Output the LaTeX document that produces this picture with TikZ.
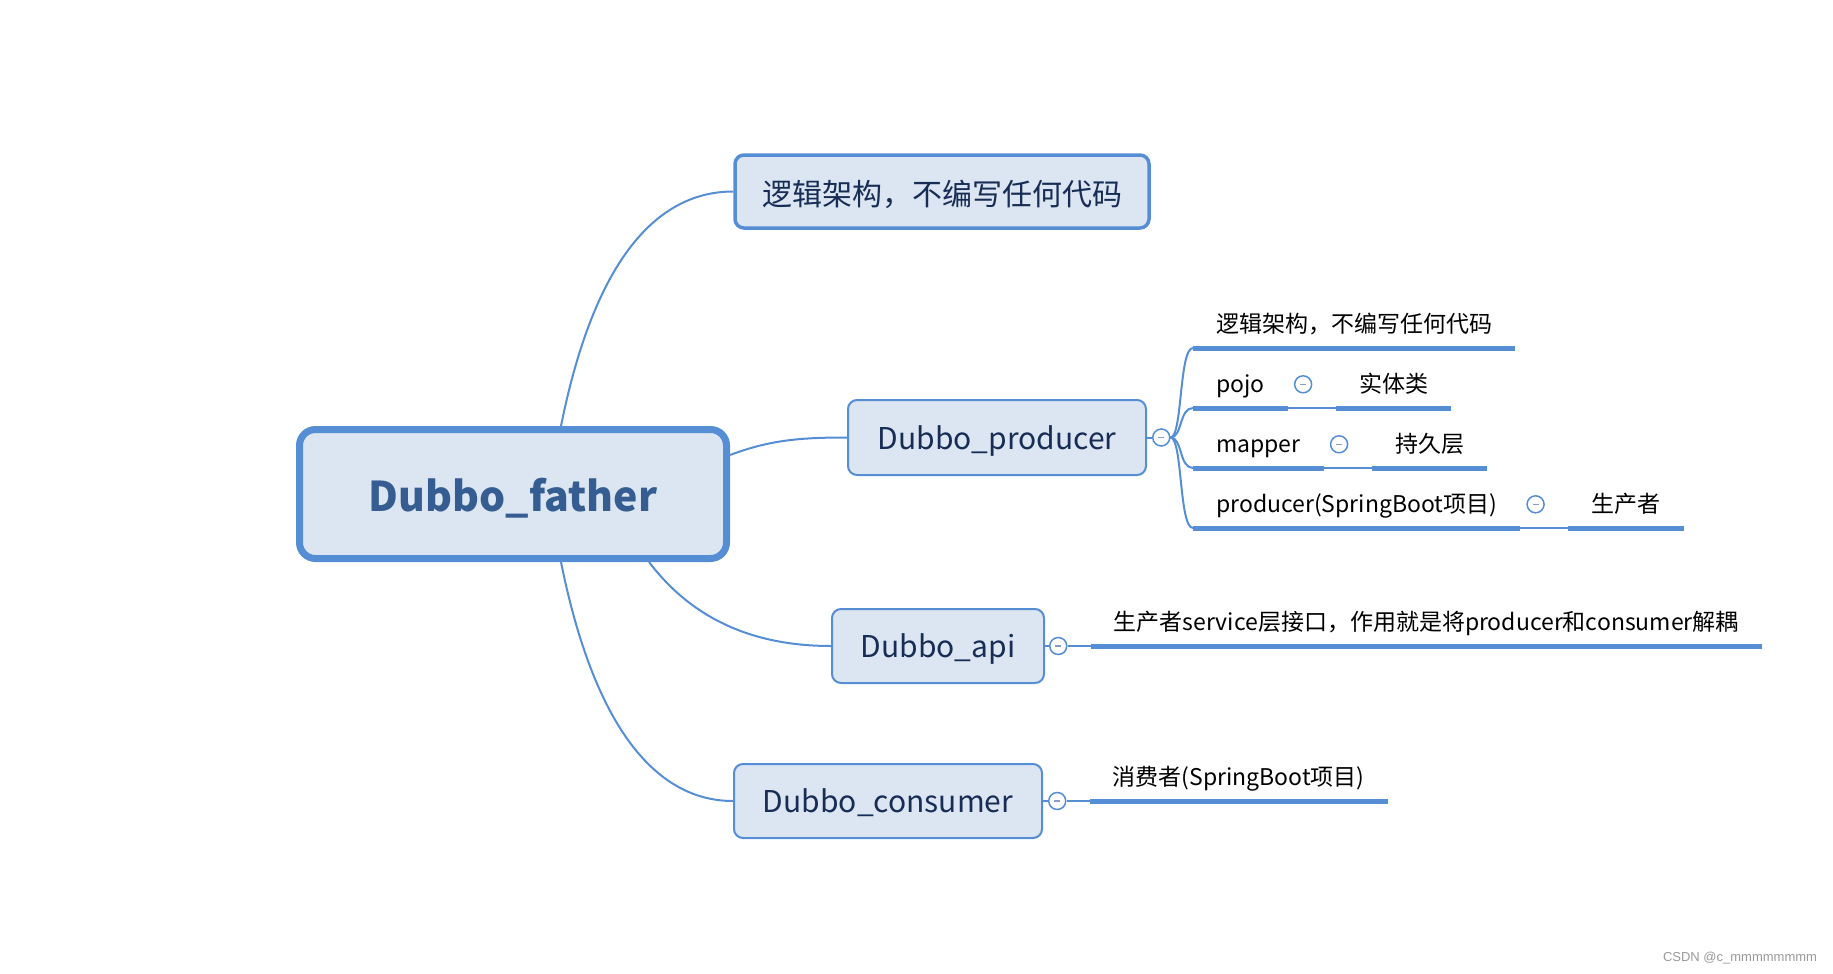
\documentclass[tikz,border=0pt]{standalone}
\usepackage{fontspec}
\setmainfont{Noto Sans CJK SC}
\newfontfamily\markfont{Liberation Sans}
\usetikzlibrary{positioning}
\definecolor{xblue}{RGB}{85,142,213}
\definecolor{xfill}{RGB}{220,230,242}
\definecolor{xnavy}{RGB}{23,45,85}
\definecolor{xroot}{RGB}{54,93,145}
\definecolor{xminus}{RGB}{140,155,190}
\newcommand\foldmark{\textcolor{xminus}{\rule[-0.75pt]{6pt}{1.5pt}}}

\begin{document}
\begin{tikzpicture}[x=1pt, y=-1pt, font=\fontsize{23}{27}\selectfont,
  topic/.style={draw=xblue, fill=xfill, rounded corners=9pt, line width=2pt, text=xnavy, inner sep=0pt, text height=26pt, text depth=3pt, font=\fontsize{30}{36}\selectfont},
  sub/.style={anchor=south west, inner xsep=23pt, inner ysep=12pt, text height=20pt, text depth=3pt},
  fold/.style={circle, draw=xblue, fill=white, line width=1.5pt, minimum size=17pt, inner sep=0pt},
  branch/.style={draw=xblue, line width=2pt},
  uline/.style={draw=xblue, line width=5pt}]
\useasboundingbox (0,0) rectangle (1833,974);

\node[topic, line width=7pt, rounded corners=16pt, minimum width=427pt, minimum height=129pt, text=xroot, text height=38pt, font=\fontsize{41}{50}\selectfont\bfseries] (father) at (513,494) {Dubbo\_father};
\node[topic, line width=3.5pt, minimum width=414pt, minimum height=73pt, text height=29pt, text depth=1pt] (logic) at (942,191.5) {逻辑架构，不编写任何代码};
\node[topic, minimum width=298pt, minimum height=75pt] (producer) at (997,437.5) {Dubbo\_producer};
\node[topic, minimum width=212pt, minimum height=74pt] (api) at (938,646) {Dubbo\_api};
\node[topic, minimum width=308pt, minimum height=74pt] (consumer) at (888,801) {Dubbo\_consumer};

\draw[branch] ([xshift=48pt]father.north) .. controls +(34,-169) and +(-75,0) .. (logic.west);
\draw[branch] ([yshift=39pt]father.east) .. controls +(40,-15) and +(-47,0) .. (producer.west);
\draw[branch] ([xshift=136pt]father.south) .. controls +(41,54) and +(-82,0) .. (api.west);
\draw[branch] ([xshift=48pt]father.south) .. controls +(34,169) and +(-75,0) .. (consumer.west);

% producer
\node[fold, right=5pt of producer] (producerF) {\foldmark};
\draw[branch] (producer) -- (producerF);
\node[sub] (arch) at (1193,348) {逻辑架构，不编写任何代码};
\node[sub] (pojo) at (1193,408) {pojo};
\node[sub] (mapper) at (1193,468) {mapper};
\node[sub] (prod) at (1193,528) {producer(SpringBoot项目)};
\foreach \t in {arch,pojo,mapper,prod}
  \draw[branch] (producerF.east) .. controls +(12,0) and +(-14,0) .. (\t.south west);
\node[fold, right=6pt of pojo] (pojoF) {\foldmark};
\node[fold, right=6pt of mapper] (mapperF) {\foldmark};
\node[fold, right=6pt of prod] (prodF) {\foldmark};
\node[sub] (entity) at ([xshift=48pt]pojo.south east) {实体类};
\node[sub] (persist) at ([xshift=48pt]mapper.south east) {持久层};
\node[sub] (maker) at ([xshift=48pt]prod.south east) {生产者};
\foreach \a/\b in {pojo/entity, mapper/persist, prod/maker}
  \draw[branch] (\a.south east) -- (\b.south west);

% api, consumer
\node[fold, right=4pt of api] (apiF) {\foldmark};
\node[sub] (apiS) at ([xshift=23pt]apiF.east) {生产者service层接口，作用就是将producer和consumer解耦};
\draw[branch] (api) -- (apiF) -- (apiS.south west);
\node[fold, right=5pt of consumer] (consumerF) {\foldmark};
\node[sub] (consumerS) at ([xshift=23pt]consumerF.east) {消费者(SpringBoot项目)};
\draw[branch] (consumer) -- (consumerF) -- (consumerS.south west);

\foreach \n in {arch,pojo,entity,mapper,persist,prod,maker,apiS,consumerS}
  \draw[uline] (\n.south west) -- (\n.south east);

\node[font=\markfont\fontsize{13}{15}\selectfont, text=black!40] (mark) at (1740,958) {CSDN @c\_mmmmmmmm};
\end{tikzpicture}
\end{document}
